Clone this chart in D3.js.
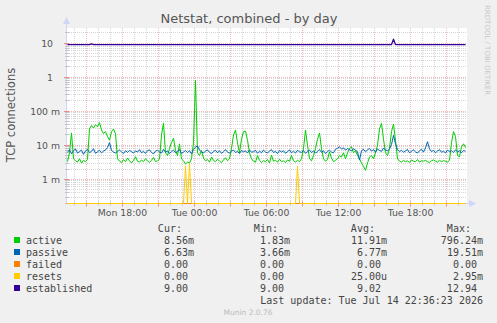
<!DOCTYPE html>
<html>
<head>
<meta charset="utf-8">
<script src="https://cdnjs.cloudflare.com/ajax/libs/d3/7.8.5/d3.min.js"></script>
<style>
body{margin:0;background:#f0f0f0;}
svg{display:block;}
text{font-family:"DejaVu Sans",sans-serif;}
.mono{font-family:"DejaVu Sans Mono",monospace;}
</style>
</head>
<body>
<div id="chart"></div>
<script>

// samples every 10 min, first one at Mon 13:25
var firstSample = new Date(2026, 6, 13, 13, 25, 0);
var sampleStep = 10 * 60 * 1000;

// active / passive in milli-connections (m)
var active = [3.3, 6, 23, 4, 3.5, 3.2, 4, 3.0, 3.6, 3.3,
  3.8, 30, 38, 32, 40, 35, 46, 28, 22, 25,
  18, 14, 25, 30, 22, 4,
  3.4, 3.1, 3.8, 3.3, 4.2, 3.5, 3.0, 3.6, 4.6, 3.4, 3.2, 3.7, 3.3, 4.0, 3.5, 3.1, 3.6, 4.4, 3.3, 3.5, 3.9,
  20, 45, 6, 5, 8, 12, 16, 7, 5, 11, 4, 3.5, 2.8, 3.2, 3, 4, 12, 796.24, 6, 5,
  7, 4.2, 3.5, 3.8, 3.2, 4.5, 3.6, 3.3, 3.9, 3.4, 3.1, 3.7, 4.3, 3.5,
  4, 8, 20, 28, 12, 6, 15, 25, 26, 14, 6, 4,
  3.4, 3.2, 5.0, 3.6, 3.1, 3.5, 3.3, 3.8, 3.0, 5.1, 3.4, 3.6, 3.2, 3.9, 3.3, 3.5, 3.1, 3.7, 3.4, 5.0, 3.5, 3.2, 3.6, 3.3, 4.0,
  8, 28, 10, 4, 3.5, 5, 8, 15, 23, 8, 4,
  3.4, 3.8, 6.4, 4.2, 3.3, 3.6, 4.0,
  5, 4.5, 6, 4, 6, 8, 9, 6, 7, 5, 4,
  3, 2.4, 1.83, 3, 4.5,
  5, 4, 6, 10,
  30, 44, 15, 6, 5, 8, 25, 42, 14, 4,
  3.4, 3.2, 3.6, 3.3, 3.5, 3.1, 3.7, 3.4, 3.3, 3.8, 3.2, 3.5, 3.4, 3.6, 3.3, 3.1, 3.5, 3.7, 3.4, 3.2, 3.6, 3.3, 3.5, 3.4, 3.2, 3.6,
  12, 25, 18, 5, 4.6, 9, 11, 8.56];

var passive = [6.2, 7.4, 5.6, 6.9, 7.8, 5.9, 6.5, 7.2, 5.4, 6.8, 7.5, 6.1, 6.6, 7.9, 5.8, 6.4, 7.1, 6.0, 6.7, 7.3,
  8.5, 12.0, 7.0, 6.3, 5.9, 6.6, 7.2, 6.4, 5.7, 6.9, 6.2, 7.0, 6.5, 5.9, 6.8, 6.3, 7.4, 6.0, 6.6, 5.8,
  6.9, 7.3, 6.1, 5.6, 6.7, 7.1, 6.4, 5.9, 7.6, 6.2, 6.8, 5.7, 6.5, 7.2, 6.0, 6.6, 7.4, 5.8, 6.3, 7.0,
  6.1, 6.9, 5.6, 7.5, 8.8, 9.6, 7.2, 6.4, 5.9, 6.8, 7.3, 6.2, 5.7, 6.6, 7.1, 6.0, 6.9, 5.8, 6.5, 7.4,
  6.3, 5.9, 6.7, 7.2, 6.1, 6.6, 5.7, 7.0, 6.4, 6.8, 5.9, 7.3, 6.2, 6.5, 7.1, 5.8, 6.7, 6.0, 7.2, 6.3,
  5.9, 6.8, 7.4, 6.1, 6.6, 5.7, 7.0, 6.3, 6.9, 5.8, 6.5, 7.3, 6.0, 6.7, 5.9, 7.1, 6.4, 6.2, 7.0, 5.8,
  6.6, 7.2, 6.1, 6.8, 5.9, 6.5, 7.4, 6.2, 6.9, 5.7, 6.6, 7.1, 6.3, 6.0, 7.6, 8.2, 8.9, 7.8, 8.4, 7.2,
  8.0, 7.4, 6.8, 7.9, 7.1, 6.5, 3.66, 6.9, 7.6, 6.4, 7.3, 8.1, 6.7, 7.5, 6.2, 7.8, 7.0, 6.6, 8.3, 7.2,
  6.9, 7.7, 10.5, 19.51, 11.0, 7.4, 6.5, 7.1, 6.2, 6.8, 7.5, 6.0, 6.6, 7.3, 6.4, 5.9, 6.9, 7.6, 6.3, 8.4,
  12.7, 7.8, 6.5, 7.1, 6.0, 6.8, 7.4, 6.2, 6.7, 5.9, 7.2, 6.5, 6.9, 6.1, 7.3, 6.4, 6.8, 6.0, 7.0, 6.63];

// sparse series: sample index -> value (connections)
var failedIdx = [0, 199];
var failedVal = [0, 0];
var resetsIdx = [0, 58, 59, 60, 61, 62, 114, 115, 116, 199];
var resetsVal = [0, 0, 0.0025, 0, 0.00295, 0, 0, 0.0024, 0, 0];
var establishedIdx = [0, 11, 12, 13, 162, 163, 164, 199];
var establishedVal = [9, 9, 9.4, 9, 9, 12.94, 9, 9];

var yTickValues = [0.001, 0.01, 0.1, 1, 10];
var yTickLabels = ["1 m", "10 m", "100 m", "1", "10"];

var legendNames = ["active", "passive", "failed", "resets", "established"];
var legendColors = ["#00cc00", "#0066b3", "#ff8000", "#ffcc00", "#330099"];
var curVals = ["8.56m", "6.63m", "0.00", "0.00", "9.00"];
var minVals = ["1.83m", "3.66m", "0.00", "0.00", "9.00"];
var avgVals = ["11.91m", "6.77m", "0.00", "25.00u", "9.02"];
var maxVals = ["796.24m", "19.51m", "0.00", "2.95m", "12.94"];
var lastUpdate = "Last update: Tue Jul 14 22:36:23 2026";

var W = 497, H = 323;
var pLeft = 67, pRight = 467, pTop = 28, pBottom = 203.5;

var x = d3.scaleTime()
  .domain([new Date(2026, 6, 13, 13, 22, 30), new Date(2026, 6, 14, 22, 42, 30)])
  .range([pLeft, pRight]);

var y = d3.scaleLog()
  .domain([1.95e-4, 27.6])
  .range([pBottom, pTop])
  .clamp(true);

function sampleTime(i){ return new Date(firstSample.getTime() + i * sampleStep); }
function px(v){ return Math.floor(v) + 0.5; }

var svg = d3.select("#chart").append("svg")
  .attr("width", W)
  .attr("height", H);

svg.append("rect").attr("width", W).attr("height", H).attr("fill", "#f0f0f0");
svg.append("rect")
  .attr("x", pLeft).attr("y", pTop)
  .attr("width", pRight - pLeft).attr("height", pBottom - pTop)
  .attr("fill", "#ffffff");

// minor y grid (2..9 per decade)
var minorY = [];
for (var e = -4; e <= 1; e++) {
  for (var k = 2; k <= 9; k++) {
    var v = k * Math.pow(10, e);
    if (v > y.domain()[0] && v < y.domain()[1]) minorY.push(v);
  }
}
var hourTicks = d3.timeHour.every(1).range(x.domain()[0], x.domain()[1]);
var threeHourTicks = hourTicks.filter(function(d){ return d.getHours() % 3 === 0; });
var sixHourTicks = hourTicks.filter(function(d){ return d.getHours() % 6 === 0; });
var minorHours = hourTicks.filter(function(d){ return d.getHours() % 3 !== 0; });

function vPath(ticks, y1, y2){
  return ticks.map(function(d){ return "M" + px(x(d)) + "," + y1 + "V" + y2; }).join("");
}
function hPath(vals, x1, x2){
  return vals.map(function(d){ return "M" + x1 + "," + px(y(d)) + "H" + x2; }).join("");
}

var grid = svg.append("g").attr("class", "grid");
grid.append("path").attr("d", vPath(minorHours, pTop, pBottom) + hPath(minorY, pLeft, pRight))
  .attr("fill", "none").attr("stroke", "#d6d6d6").attr("stroke-dasharray", "1,1");
grid.append("path").attr("d", vPath(threeHourTicks, pTop, pBottom) + hPath(yTickValues, pLeft, pRight))
  .attr("fill", "none").attr("stroke", "#f1b8b8").attr("stroke-dasharray", "1,1");

// axes
var axisColor = "#cfd6f8";
svg.append("line").attr("x1", pLeft - 0.5).attr("x2", pLeft - 0.5).attr("y1", pBottom).attr("y2", 22)
  .attr("stroke", axisColor);
svg.append("path").attr("d", "M" + (pLeft - 4) + ",24 L" + (pLeft - 0.5) + ",17 L" + (pLeft + 3) + ",24 Z")
  .attr("fill", axisColor);
svg.append("line").attr("x1", pLeft).attr("x2", 472).attr("y1", pBottom).attr("y2", pBottom)
  .attr("stroke", axisColor);
svg.append("path").attr("d", "M469," + (pBottom - 3.5) + " L476," + pBottom + " L469," + (pBottom + 3.5) + " Z")
  .attr("fill", axisColor);

// tick marks
svg.append("path").attr("d", vPath(minorHours, pBottom - 2, pBottom + 2) +
    minorY.map(function(d){ return "M" + (pLeft - 2) + "," + px(y(d)) + "H" + (pLeft + 2); }).join(""))
  .attr("fill", "none").attr("stroke", "#c4c4c4");
svg.append("path").attr("d", vPath(threeHourTicks, pBottom - 2, pBottom + 3) +
    yTickValues.map(function(d){ return "M" + (pLeft - 3) + "," + px(y(d)) + "H" + (pLeft + 2); }).join(""))
  .attr("fill", "none").attr("stroke", "#ec8c8c");

// data
var line = d3.line()
  .x(function(d){ return x(d.t); })
  .y(function(d){ return y(d.v); });

var activeData = active.map(function(v, i){ return {t: sampleTime(i), v: v * 1e-3}; });
var passiveData = passive.map(function(v, i){ return {t: sampleTime(i), v: v * 1e-3}; });
var failedData = failedIdx.map(function(n, i){ return {t: sampleTime(n), v: failedVal[i]}; });
var resetsData = resetsIdx.map(function(n, i){ return {t: sampleTime(n), v: resetsVal[i]}; });
var establishedData = establishedIdx.map(function(n, i){ return {t: sampleTime(n), v: establishedVal[i]}; });

var series = [activeData, passiveData, failedData, resetsData, establishedData];
var plot = svg.append("g").attr("class", "plot");
series.forEach(function(s, i){
  plot.append("path")
    .datum(s)
    .attr("fill", "none")
    .attr("stroke", legendColors[i])
    .attr("stroke-width", i == 4 ? 1.3 : 1)
    .attr("stroke-linejoin", "round")
    .attr("d", line);
});

// labels
var fontColor = "#555555";
svg.append("text")
  .attr("x", 249).attr("y", 23)
  .attr("text-anchor", "middle")
  .style("font-size", "13px")
  .style("fill", fontColor)
  .text("Netstat, combined - by day");

svg.append("text")
  .attr("transform", "translate(15,115) rotate(-90)")
  .attr("text-anchor", "middle")
  .style("font-size", "11.5px")
  .style("fill", fontColor)
  .text("TCP connections");

svg.append("text")
  .attr("transform", "translate(485,5) rotate(90)")
  .attr("text-anchor", "start")
  .style("font-size", "7px")
  .style("fill", "#c8c8c8")
  .text("RRDTOOL / TOBI OETIKER");

svg.selectAll(".yLabel").data(yTickValues).enter().append("text")
  .attr("x", function(d, i){ return yTickLabels[i].indexOf(" ") > 0 ? 60 : 53; })
  .attr("y", function(d){ return y(d) + 3.5; })
  .attr("text-anchor", "end")
  .style("font-size", "9.3px")
  .style("fill", fontColor)
  .text(function(d, i){ return yTickLabels[i]; });

svg.selectAll(".xLabel").data(sixHourTicks).enter().append("text")
  .attr("x", function(d){ return x(d); })
  .attr("y", 216)
  .attr("text-anchor", "middle")
  .style("font-size", "9.3px")
  .style("fill", fontColor)
  .text(function(d){ return d3.timeFormat("%a %H:%M")(d); });

// legend
var legend = svg.append("g").attr("class", "legend");
var charW = 6.02;
var colRight = [194, 290, 387, 483];
var headers = ["Cur:", "Min:", "Avg:", "Max:"];
var legendColor = "#444444";
var rowY = function(i){ return 243.5 + i * 12; };

headers.forEach(function(h, c){
  legend.append("text").attr("class", "mono")
    .attr("x", colRight[c] - 2 * charW).attr("y", 231.5)
    .attr("text-anchor", "end")
    .style("font-size", "10px").style("fill", legendColor)
    .text(h);
});

legendNames.forEach(function(name, i){
  legend.append("rect")
    .attr("x", 14).attr("y", rowY(i) - 6.5)
    .attr("width", 6).attr("height", 6)
    .attr("fill", legendColors[i]);
  legend.append("text").attr("class", "mono")
    .attr("x", 26).attr("y", rowY(i))
    .style("font-size", "10px").style("fill", legendColor)
    .text(name);
  [curVals, minVals, avgVals, maxVals].forEach(function(arr, c){
    var s = arr[i];
    var hasUnit = /[a-z]$/.test(s);
    legend.append("text").attr("class", "mono")
      .attr("x", colRight[c] - (hasUnit ? 0 : charW)).attr("y", rowY(i))
      .attr("text-anchor", "end")
      .style("font-size", "10px").style("fill", legendColor)
      .text(s);
  });
});

legend.append("text").attr("class", "mono")
  .attr("x", 483).attr("y", rowY(5))
  .attr("text-anchor", "end")
  .style("font-size", "10px").style("fill", legendColor)
  .text(lastUpdate);

svg.append("text")
  .attr("x", 248).attr("y", 315)
  .attr("text-anchor", "middle")
  .style("font-size", "7.5px")
  .style("fill", "#bbbbbb")
  .text("Munin 2.0.76");

</script>
</body>
</html>
